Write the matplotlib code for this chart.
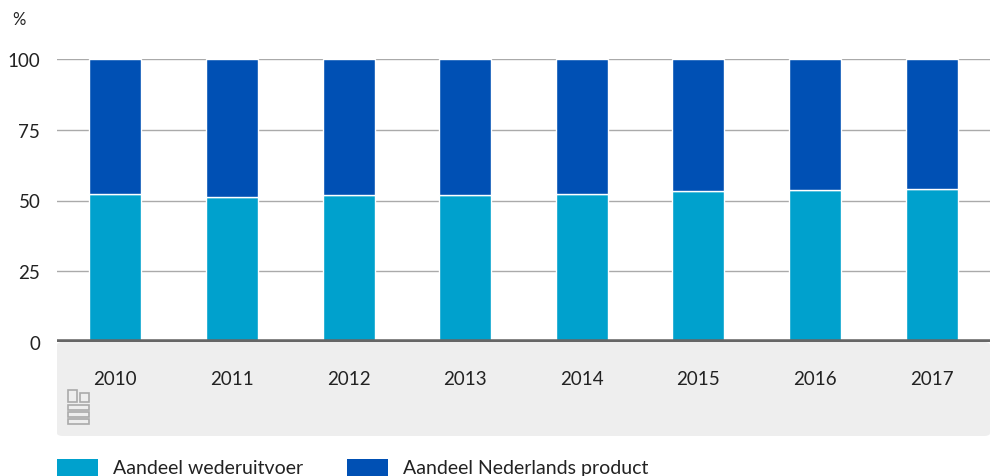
import matplotlib
matplotlib.use("Agg")
import matplotlib.pyplot as plt
from matplotlib.patches import FancyBboxPatch, Rectangle

years = ["2010", "2011", "2012", "2013", "2014", "2015", "2016", "2017"]
wederuitvoer = [52.2, 51.2, 52.1, 52.1, 52.2, 53.5, 53.8, 54.0]
nederlands = [100 - v for v in wederuitvoer]
yticks = [0, 25, 50, 75, 100]

plt.rcParams["font.family"] = ["Lato", "DejaVu Sans"]

c_light = "#00A1CD"
c_dark = "#0050B4"
txt = "#222222"

fig = plt.figure(figsize=(9.9, 4.77), dpi=100)
ax = fig.add_axes([57/990, (477-343)/477, 933/990, (343-60)/477])

# grey band for x labels
band = FancyBboxPatch((57/990, (477-437)/477), 933/990, (437-343)/477,
                      boxstyle="round,pad=0,rounding_size=0.006",
                      transform=fig.transFigure, facecolor="#EEEEEE",
                      edgecolor="none", zorder=-5)
fig.patches.append(band)

x = range(len(years))
ax.bar(x, wederuitvoer, width=0.446, color=c_light, edgecolor="white", linewidth=1, zorder=3,
       label="Aandeel wederuitvoer")
ax.bar(x, nederlands, bottom=wederuitvoer, width=0.446, color=c_dark, edgecolor="white",
       linewidth=1, zorder=3, label="Aandeel Nederlands product")

ax.set_xlim(-0.5, len(years) - 0.5)
ax.set_ylim(0, 100)
ax.set_yticks(yticks)
ax.set_yticklabels([str(t) for t in yticks], fontsize=13.5, color=txt)
ax.set_xticks(list(x))
ax.set_xticklabels(years, fontsize=13.5, color=txt)
ax.tick_params(axis="both", length=0)
ax.tick_params(axis="x", pad=20)
ax.tick_params(axis="y", pad=12)
for t in yticks[1:]:
    ax.axhline(t, color="#AAAAAA", linewidth=1.0, zorder=1)
ax.axhline(0, color="#666666", linewidth=4, zorder=4)
for s in ax.spines.values():
    s.set_visible(False)
ax.patch.set_alpha(0)

fig.text(12/990, 1 - 20/477, "%", fontsize=12, color=txt, va="center", ha="left")

# simple cbs logo approximation
lx, ly = 68, 391
for (x0, y0, w, h) in [(lx, ly, 9, 12), (lx + 12, ly + 3, 9, 9), (lx, ly + 15, 21, 5),
                       (lx, ly + 22, 21, 5), (lx, ly + 29, 21, 5)]:
    fig.patches.append(Rectangle((x0/990, 1 - (y0 + h)/477), w/990, h/477, transform=fig.transFigure,
                                 facecolor="none", edgecolor="#AAAAAA", linewidth=1.2))

# legend
fig.patches.append(Rectangle((57/990, 0), 41/990, 17/477, transform=fig.transFigure,
                             facecolor=c_light, edgecolor="none"))
fig.text(113/990, 8/477, "Aandeel wederuitvoer", fontsize=14, color=txt, va="center")
fig.patches.append(Rectangle((347/990, 0), 41/990, 17/477, transform=fig.transFigure,
                             facecolor=c_dark, edgecolor="none"))
fig.text(403/990, 8/477, "Aandeel Nederlands product", fontsize=14, color=txt, va="center")

fig.savefig("out.png", dpi=100)
